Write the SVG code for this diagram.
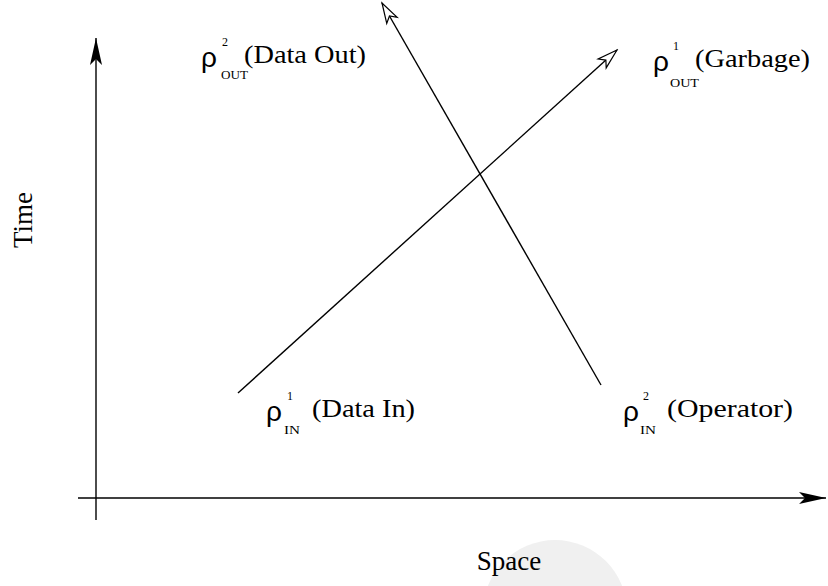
<svg xmlns="http://www.w3.org/2000/svg" width="828" height="586" viewBox="0 0 828 586">
<style>
.t{font-family:"Liberation Serif","Times New Roman",serif;fill:#000}
.rho{font-family:"Liberation Sans",Arial,sans-serif;font-size:28px;fill:#000}
.sup{font-family:"Liberation Serif",serif;font-size:12px;fill:#000}
.sub{font-family:"Liberation Serif",serif;font-size:12px;fill:#000}
.ln{stroke:#000;stroke-width:1.4;fill:none}
</style>
<defs>
<marker id="solid" markerUnits="userSpaceOnUse" viewBox="-28 -7 29 14" markerWidth="29" markerHeight="14" refX="0" refY="0" orient="auto">
<path d="M0,0 L-27,-6 L-21,0 L-27,6 Z" fill="#000"/>
</marker>
<marker id="hollow" markerUnits="userSpaceOnUse" viewBox="-22 -8 24 16" markerWidth="24" markerHeight="16" refX="0" refY="0" orient="auto">
<path d="M0,0 L-20,-6 L-15,0 L-20,6 Z" fill="#fff" stroke="#000" stroke-width="1.2"/>
</marker>
</defs>
<rect width="828" height="586" fill="#fff"/>
<g id="watermark">
<circle cx="555" cy="612" r="72" fill="#f0f0f0"/>
</g>
<g id="connectors">
<line class="ln" x1="96" y1="520" x2="96" y2="38" marker-end="url(#solid)"/>
<line class="ln" x1="78" y1="498" x2="826" y2="498" marker-end="url(#solid)"/>
<line class="ln" x1="238" y1="393" x2="617" y2="50" marker-end="url(#hollow)"/>
<line class="ln" x1="601" y1="385" x2="382" y2="3" marker-end="url(#hollow)"/>
</g>
<g id="axis-time"><text class="t" font-size="27" text-anchor="middle" transform="translate(32,220) rotate(-90)">Time</text></g>
<g id="axis-space"><text class="t" font-size="27" x="509" y="570" text-anchor="middle">Space</text></g>
<g id="data-out">
<text class="rho" x="201" y="67">ρ</text>
<text class="sup" x="222" y="46">2</text>
<text class="sub" x="221" y="79" textLength="27" lengthAdjust="spacingAndGlyphs">OUT</text>
<text class="t" font-size="25" x="244" y="63" textLength="122" lengthAdjust="spacingAndGlyphs">(Data Out)</text>
</g>
<g id="garbage">
<text class="rho" x="653" y="71">ρ</text>
<text class="sup" x="673" y="50">1</text>
<text class="sub" x="670" y="87" textLength="29" lengthAdjust="spacingAndGlyphs">OUT</text>
<text class="t" font-size="25" x="695" y="67" textLength="115" lengthAdjust="spacingAndGlyphs">(Garbage)</text>
</g>
<g id="data-in">
<text class="rho" x="266" y="421">ρ</text>
<text class="sup" x="287" y="400">1</text>
<text class="sub" x="284" y="434" textLength="16" lengthAdjust="spacingAndGlyphs">IN</text>
<text class="t" font-size="25" x="312" y="417" textLength="103" lengthAdjust="spacingAndGlyphs">(Data In)</text>
</g>
<g id="operator">
<text class="rho" x="623" y="421">ρ</text>
<text class="sup" x="643" y="400">2</text>
<text class="sub" x="640" y="434" textLength="16" lengthAdjust="spacingAndGlyphs">IN</text>
<text class="t" font-size="25" x="667" y="417" textLength="126" lengthAdjust="spacingAndGlyphs">(Operator)</text>
</g>
</svg>
